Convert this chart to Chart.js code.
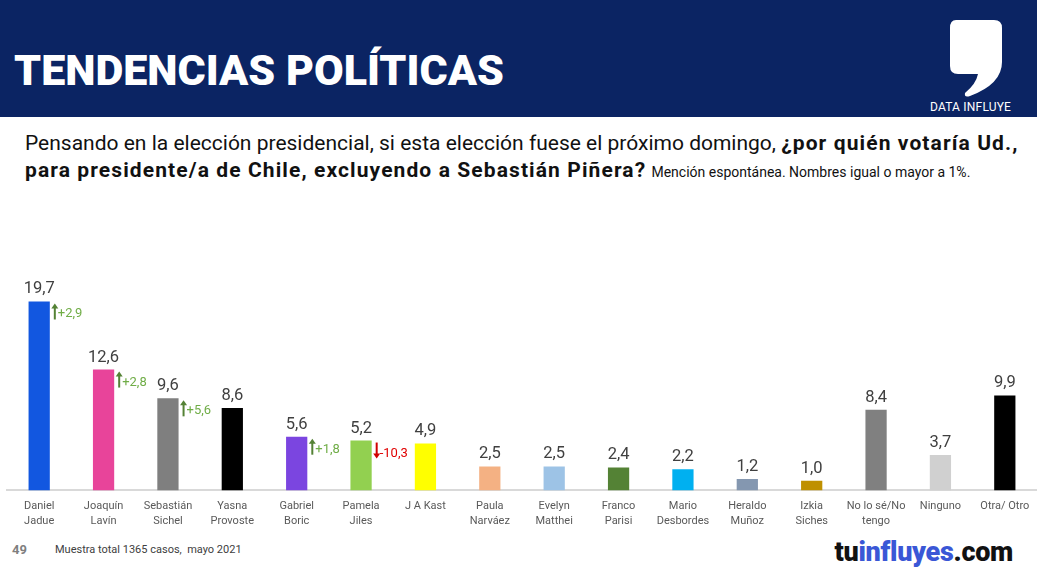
<!DOCTYPE html>
<html>
<head>
<meta charset="utf-8">
<script src="https://cdn.jsdelivr.net/npm/chart.js@4/dist/chart.umd.min.js"></script>
<style>
  body { margin:0; width:1037px; height:576px; background:#fff; overflow:hidden; font-family:Roboto, "Noto Sans", sans-serif; position:relative; }
  #header { position:absolute; left:0; top:0; width:1037px; height:117px; background:#0b2463; }
  #title { position:absolute; left:14px; top:49px; color:#fff; font-size:43px; font-weight:900; letter-spacing:0px; line-height:1; }
  #logo { position:absolute; left:948px; top:18px; }
  #dataInf { position:absolute; left:930px; top:100px; color:#fff; font-size:12px; letter-spacing:0.2px; }
  #sub { position:absolute; left:25px; top:130px; width:1010px; font-size:21px; line-height:27px; color:#111; white-space:nowrap; }
  #sub b { font-weight:700; letter-spacing:1.1px; }
  #sub small { font-size:14px; font-weight:400; letter-spacing:0; }
  #wrap { position:absolute; left:0; top:196px; width:1037px; height:333px; }
  #pg { position:absolute; left:12px; top:542px; font-size:13px; font-weight:700; color:#7f7f7f; }
  #muestra { position:absolute; left:55px; top:543px; font-size:11px; color:#404040; }
  #brand { position:absolute; right:24px; top:536px; font-size:27px; font-weight:900; color:#111; letter-spacing:-0.3px; }
  #brand span { color:#3a57d6; }
</style>
</head>
<body>
<div id="header">
  <div id="title">TENDENCIAS POLÍTICAS</div>
  <svg id="logo" width="56" height="80" viewBox="0 0 56 80">
    <path d="M8 2 H46 Q54 2 54 10 V44 Q54 66 22 78 Q16 80 17 75 Q28 66 30 56 H10 Q2 56 2 48 V10 Q2 2 8 2 Z" fill="#fff"/>
  </svg>
  <div id="dataInf">DATA INFLUYE</div>
</div>
<div id="sub">Pensando en la elección presidencial, si esta elección fuese el próximo domingo, <b>¿por quién votaría Ud.,<br>para presidente/a de Chile, excluyendo a Sebastián Piñera?</b> <small>Mención espontánea. Nombres igual o mayor a 1%.</small></div>
<div id="wrap"><canvas id="c"></canvas></div>
<div id="pg">49</div>
<div id="muestra">Muestra total 1365 casos,&nbsp; mayo 2021</div>
<div id="brand">tu<span>influyes</span>.com</div>
<script>
var candidates = [
  ["Daniel","Jadue"], ["Joaquín","Lavín"], ["Sebastián","Sichel"], ["Yasna","Provoste"],
  ["Gabriel","Boric"], ["Pamela","Jiles"], ["J A Kast"], ["Paula","Narváez"],
  ["Evelyn","Matthei"], ["Franco","Parisi"], ["Mario","Desbordes"], ["Heraldo","Muñoz"],
  ["Izkia","Siches"], ["No lo sé/No","tengo"], ["Ninguno"], ["Otra/ Otro"]
];
var votes = [19.7, 12.6, 9.6, 8.6, 5.6, 5.2, 4.9, 2.5, 2.5, 2.4, 2.2, 1.2, 1.0, 8.4, 3.7, 9.9];
var changes = [2.9, 2.8, 5.6, null, 1.8, -10.3, null, null, null, null, null, null, null, null, null, null];
var barColors = ["#1257e0", "#e8449a", "#7f7f7f", "#000000", "#7b45e0", "#92d050", "#ffff00", "#f4b183",
  "#9dc3e6", "#548235", "#00b0f0", "#8497b0", "#bf9000", "#808080", "#d0d0d0", "#000000"];

function fmt(v) { return v.toFixed(1).replace(".", ","); }

var labelPlugin = {
  id: "barLabels",
  afterDatasetsDraw: function(chart) {
    var ctx = chart.ctx;
    var meta = chart.getDatasetMeta(0);
    ctx.save();
    meta.data.forEach(function(bar, i) {
      ctx.font = "16.5px Roboto, 'Noto Sans', sans-serif";
      ctx.fillStyle = "#404040";
      ctx.textAlign = "center";
      ctx.textBaseline = "alphabetic";
      ctx.fillText(fmt(votes[i]), bar.x, bar.y - 8);
      var ch = changes[i];
      if (ch === null) return;
      var up = ch > 0;
      var ax = bar.x + bar.width / 2 + 5;
      var y0 = bar.y + 2, y1 = bar.y + 18;
      var ac = up ? "#548235" : "#d00000";
      ctx.strokeStyle = ac; ctx.fillStyle = ac; ctx.lineWidth = 2;
      ctx.beginPath();
      if (up) { ctx.moveTo(ax, y1); ctx.lineTo(ax, y0 + 4); } else { ctx.moveTo(ax, y0); ctx.lineTo(ax, y1 - 4); }
      ctx.stroke();
      ctx.beginPath();
      if (up) { ctx.moveTo(ax - 3.5, y0 + 5); ctx.lineTo(ax + 3.5, y0 + 5); ctx.lineTo(ax, y0); }
      else { ctx.moveTo(ax - 3.5, y1 - 5); ctx.lineTo(ax + 3.5, y1 - 5); ctx.lineTo(ax, y1); }
      ctx.closePath(); ctx.fill();
      ctx.font = "13px Roboto, 'Noto Sans', sans-serif";
      ctx.textAlign = "left";
      ctx.fillStyle = up ? "#70ad47" : "#e00000";
      ctx.fillText((up ? "+" : "") + fmt(ch), ax + 3, bar.y + 16);
    });
    ctx.restore();
  }
};

new Chart(document.getElementById("c"), {
  type: "bar",
  data: {
    labels: candidates,
    datasets: [{ data: votes, backgroundColor: barColors, barPercentage: 0.66, categoryPercentage: 0.5 }]
  },
  options: {
    responsive: true,
    maintainAspectRatio: false,
    animation: false,
    layout: { padding: { left: 7, right: 0, top: 0, bottom: 0 } },
    plugins: { legend: { display: false }, tooltip: { enabled: false } },
    scales: {
      x: {
        grid: { display: false },
        border: { display: true, color: "#d9d9d9", width: 2 },
        ticks: { color: "#595959", font: { size: 11, family: "Roboto, 'Noto Sans', sans-serif", lineHeight: 1.3 }, padding: 1, maxRotation: 0, autoSkip: false }
      },
      y: { display: false, min: 0, max: 30.7 }
    }
  },
  plugins: [labelPlugin]
});
</script>
</body>
</html>
